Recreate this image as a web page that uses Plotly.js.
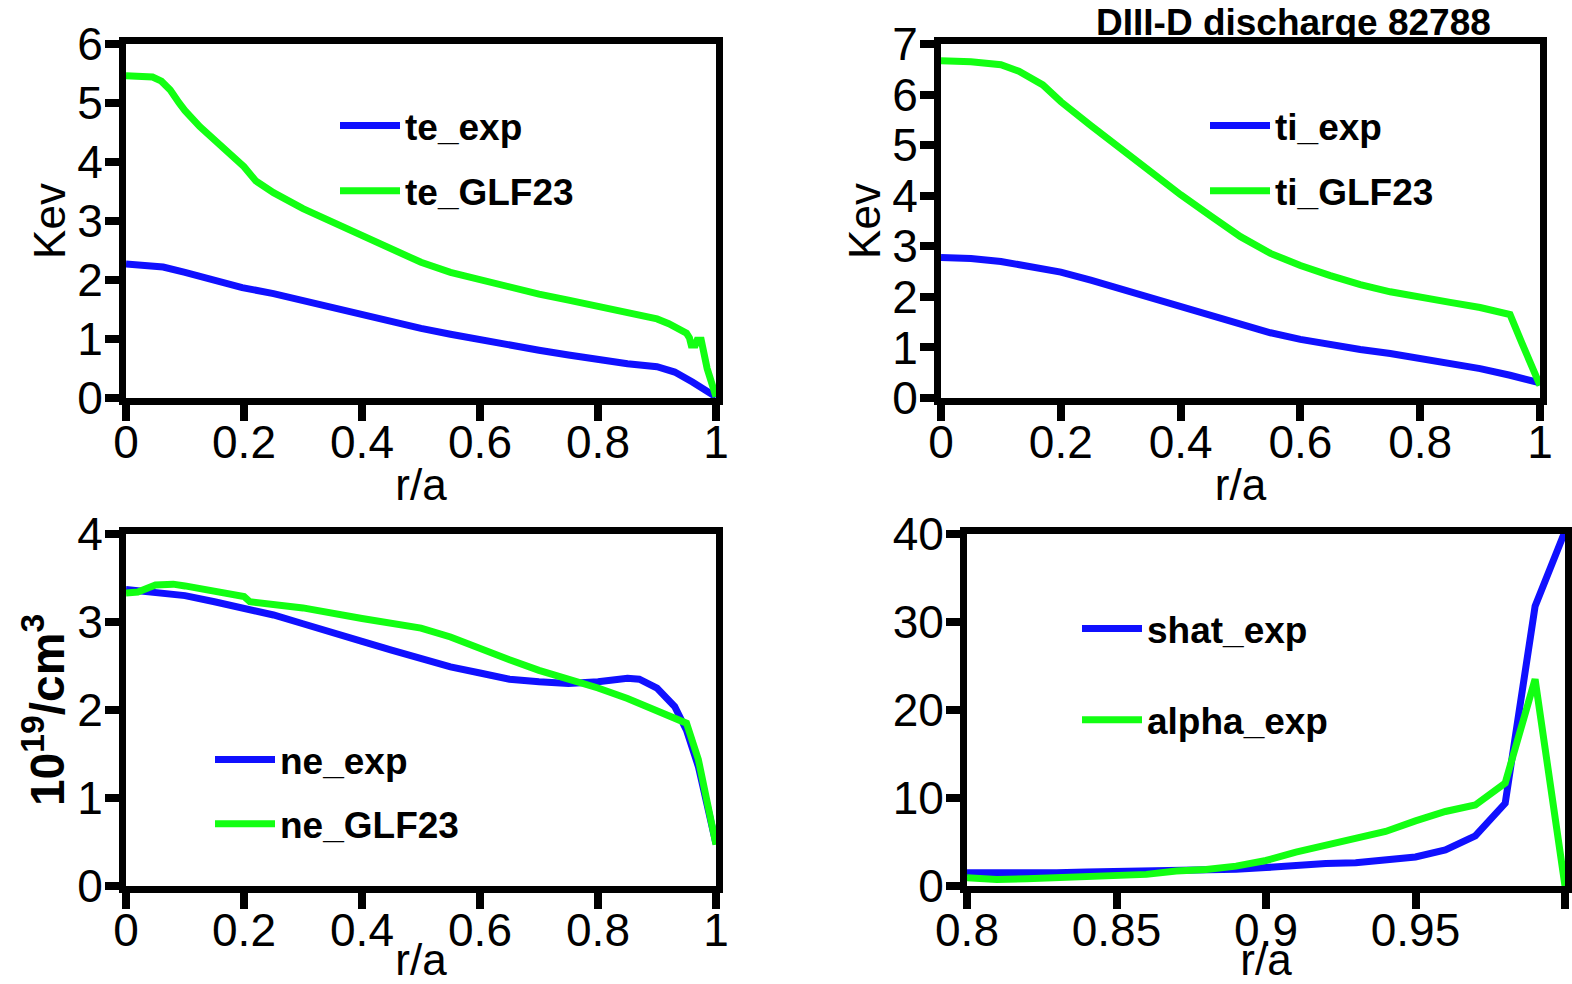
<!DOCTYPE html>
<html>
<head>
<meta charset="utf-8">
<script src="https://cdn.plot.ly/plotly-3.0.1.min.js"></script>
<style>html,body{margin:0;padding:0;background:#fff}#chart{width:1572px;height:984px}</style>
</head>
<body>
<div id="chart"></div>
<script>
// ---- Data ----
const teExpR   = [0,0.03,0.063,0.1,0.15,0.197,0.25,0.3,0.35,0.4,0.45,0.5,0.55,0.6,0.65,0.7,0.75,0.8,0.85,0.9,0.93,0.96,0.98,1.0];
const teExp    = [2.27,2.25,2.22,2.13,2.0,1.87,1.77,1.65,1.52,1.40,1.29,1.18,1.08,0.98,0.89,0.81,0.73,0.65,0.58,0.53,0.44,0.27,0.14,0.02];
const teGlfR   = [0,0.03,0.045,0.06,0.075,0.09,0.1,0.125,0.15,0.175,0.2,0.22,0.25,0.3,0.35,0.4,0.45,0.5,0.55,0.6,0.65,0.7,0.75,0.8,0.85,0.9,0.92,0.94,0.95,0.955,0.958,0.965,0.968,0.975,0.985,1.0];
const teGlf    = [5.46,5.46,5.44,5.37,5.22,5.0,4.87,4.6,4.38,4.15,3.92,3.68,3.48,3.21,2.98,2.76,2.52,2.30,2.13,2.0,1.87,1.76,1.66,1.56,1.45,1.34,1.26,1.15,1.1,1.02,0.9,0.9,0.98,0.98,0.5,0.02];

const tiExpR   = [0,0.05,0.1,0.15,0.2,0.25,0.3,0.35,0.4,0.45,0.5,0.55,0.6,0.65,0.7,0.75,0.8,0.85,0.9,0.95,1.0];
const tiExp    = [2.78,2.76,2.70,2.60,2.49,2.33,2.16,1.97,1.80,1.62,1.45,1.29,1.16,1.05,0.96,0.88,0.79,0.70,0.58,0.45,0.3];
const tiGlfR   = [0,0.05,0.1,0.13,0.17,0.2,0.25,0.3,0.35,0.4,0.45,0.5,0.55,0.6,0.65,0.7,0.75,0.8,0.85,0.9,0.95,0.97,1.0];
const tiGlf    = [6.67,6.65,6.59,6.46,6.19,5.86,5.39,4.93,4.47,4.02,3.60,3.19,2.86,2.62,2.42,2.24,2.10,1.98,1.89,1.79,1.65,1.08,0.25];

const neExpR   = [0,0.05,0.1,0.15,0.2,0.25,0.3,0.35,0.4,0.45,0.5,0.55,0.6,0.65,0.7,0.75,0.8,0.85,0.87,0.9,0.93,0.95,0.97,1.0];
const neExp    = [3.37,3.34,3.30,3.23,3.16,3.08,2.98,2.89,2.78,2.68,2.58,2.49,2.42,2.35,2.32,2.30,2.32,2.36,2.35,2.25,2.04,1.77,1.36,0.48];
const neGlfR   = [0,0.02,0.05,0.08,0.1,0.15,0.2,0.21,0.3,0.4,0.5,0.55,0.6,0.65,0.7,0.75,0.8,0.85,0.9,0.95,0.97,1.0];
const neGlf    = [3.33,3.34,3.42,3.43,3.41,3.34,3.29,3.23,3.16,3.04,2.93,2.83,2.69,2.57,2.45,2.36,2.25,2.13,2.0,1.85,1.44,0.47];

const edgeR    = [0.80,0.81,0.82,0.83,0.84,0.85,0.86,0.87,0.88,0.89,0.90,0.91,0.92,0.93,0.94,0.95,0.96,0.97,0.98,0.99,1.00];
const shatExp  = [1.5,1.45,1.45,1.5,1.6,1.65,1.7,1.8,1.85,1.9,2.1,2.4,2.55,2.65,2.9,3.3,4.1,5.7,9.4,31.8,40.3];
const alphaExp = [0.94,0.75,0.83,0.94,1.0,1.13,1.32,1.7,1.88,2.26,2.9,3.84,4.63,5.27,6.2,7.4,8.47,9.2,11.7,23.5,0.0];

const names = ['te_exp','te_GLF23','ti_exp','ti_GLF23','ne_exp','ne_GLF23','shat_exp','alpha_exp'];
const titleText = 'DIII-D discharge 82788';

// ---- Styling ----
const BLUE = '#1010ff', GREEN = '#12ff12';
const W = 1572, H = 984;
const fx = p => p / W, fy = p => (H - p) / H;
const FONT = 'Liberation Sans, Arial, Helvetica, sans-serif';

function line(x, y, name, color, xa, ya, leg, grp) {
  return {x, y, name, type: 'scatter', mode: 'lines', xaxis: xa, yaxis: ya,
    legend: leg, legendgroup: grp, line: {color, width: 7}, cliponaxis: true};
}
const traces = [
  line(teExpR, teExp, names[0], BLUE, 'x', 'y', 'legend', 'a'),
  line(teGlfR, teGlf, names[1], GREEN, 'x', 'y', 'legend', 'b'),
  line(tiExpR, tiExp, names[2], BLUE, 'x2', 'y2', 'legend2', 'c'),
  line(tiGlfR, tiGlf, names[3], GREEN, 'x2', 'y2', 'legend2', 'd'),
  line(neExpR, neExp, names[4], BLUE, 'x3', 'y3', 'legend3', 'e'),
  line(neGlfR, neGlf, names[5], GREEN, 'x3', 'y3', 'legend3', 'f'),
  line(edgeR, shatExp, names[6], BLUE, 'x4', 'y4', 'legend4', 'g'),
  line(edgeR, alphaExp, names[7], GREEN, 'x4', 'y4', 'legend4', 'h')
];

function xax(domain, range, dtick, anchor, standoff) {
  return {domain, range, dtick, tick0: 0, anchor, showgrid: false, zeroline: false,
    showline: true, mirror: true, linecolor: '#000', linewidth: 7,
    ticks: 'outside', ticklen: 16, tickwidth: 8, tickcolor: '#000',
    tickfont: {family: FONT, size: 46, color: '#000'}, ticklabelstandoff: -18,
    title: {text: 'r/a', font: {family: FONT, size: 44, color: '#000'}, standoff},
    fixedrange: true};
}
function yax(domain, range, dtick, anchor, title, tfont, standoff) {
  const a = {domain, range, dtick, tick0: 0, anchor, showgrid: false, zeroline: false,
    showline: true, mirror: true, linecolor: '#000', linewidth: 7,
    ticks: 'outside', ticklen: 14, tickwidth: 8, tickcolor: '#000',
    tickfont: {family: FONT, size: 46, color: '#000'}, ticklabelstandoff: -7,
    fixedrange: true};
  if (title) a.title = {text: title, font: tfont, standoff};
  return a;
}
const kevFont = {family: FONT, size: 44, color: '#000'};
const neFont = {family: FONT, size: 48, color: '#000', weight: 'bold'};
const legFont = {family: FONT, size: 37, color: '#000', weight: 'bold'};

function legend(xp, yp, gap) {
  return {x: fx(xp), y: fy(yp), xanchor: 'left', yanchor: 'top', bgcolor: 'rgba(0,0,0,0)',
    borderwidth: 0, font: legFont, traceorder: 'grouped', tracegroupgap: gap, itemwidth: 60};
}

const topY = [fy(398), fy(44)], botY = [fy(886), fy(534)];
const layout = {
  width: W, height: H, margin: {l: 0, r: 0, t: 0, b: 0},
  paper_bgcolor: '#fff', plot_bgcolor: '#fff', showlegend: true,
  xaxis:  xax([fx(126), fx(716)], [0, 1], 0.2, 'y', 4),
  yaxis:  yax(topY, [0, 6], 1, 'x', 'Kev', kevFont, 0),
  xaxis2: xax([fx(941), fx(1540)], [0, 1], 0.2, 'y2', 4),
  yaxis2: yax(topY, [0, 7], 1, 'x2', 'Kev', kevFont, 0),
  xaxis3: xax([fx(126), fx(716)], [0, 1], 0.2, 'y3', 0),
  yaxis3: yax(botY, [0, 4], 1, 'x3', '10<sup>19</sup>/cm<sup>3</sup>', neFont, 0),
  xaxis4: xax([fx(967), fx(1565)], [0.8, 1], 0.05, 'y4', 0),
  yaxis4: yax(botY, [0, 40], 10, 'x4', '', kevFont, 0),
  legend:  legend(335, 95, 14),
  legend2: legend(1205, 95, 14),
  legend3: legend(210, 729, 13),
  legend4: legend(1077, 598, 40),
  annotations: [{text: titleText, xref: 'paper', yref: 'paper', x: fx(1293), y: fy(23),
    xanchor: 'center', yanchor: 'middle', showarrow: false,
    font: {family: FONT, size: 37, color: '#000', weight: 'bold'}}]
};
Plotly.newPlot('chart', traces, layout, {staticPlot: true, displayModeBar: false});
</script>
</body>
</html>
